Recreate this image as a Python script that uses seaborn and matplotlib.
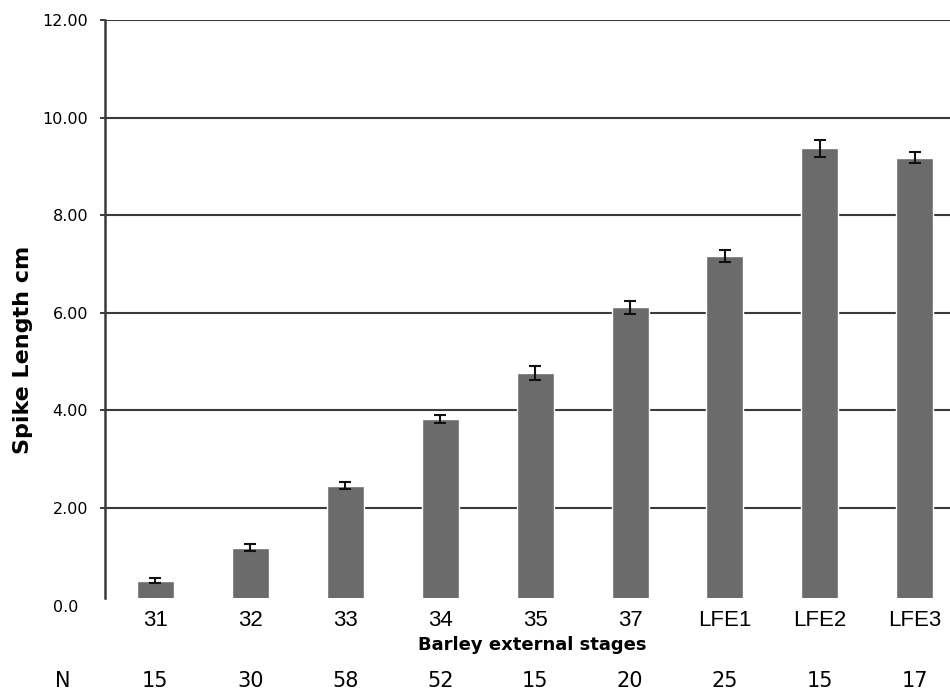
import pandas as pd
import matplotlib
matplotlib.use("Agg")
import matplotlib.pyplot as plt
import matplotlib.transforms as mtransforms
import seaborn as sns
import numpy as np

# Spike length by barley external stage
stages = ["31", "32", "33", "34", "35", "37", "LFE1", "LFE2", "LFE3"]
spike_length = [0.51, 1.19, 2.46, 3.82, 4.77, 6.11, 7.16, 9.37, 9.18]
std_err = [0.05, 0.07, 0.08, 0.085, 0.15, 0.14, 0.12, 0.18, 0.11]
n_counts = [15, 30, 58, 52, 15, 20, 25, 15, 17]
y_ticks = [0, 2, 4, 6, 8, 10, 12]
y_tick_labels = ["0.0", "2.00", "4.00", "6.00", "8.00", "10.00", "12.00"]
bar_base = 0.166  # bars and axis line stop a little above zero

sns.set_theme(style="white")
plt.rcParams['font.family'] = ['DejaVu Sans']
plt.rcParams.update({'text.color': 'black', 'xtick.color': 'black',
                     'ytick.color': 'black', 'axes.labelcolor': 'black'})

df = pd.DataFrame({"stage": stages, "length": spike_length, "se": std_err})

fig = plt.figure(figsize=(9.5, 6.9), dpi=100)
ax = fig.add_axes([0.1105, 0.1223, 0.8895, 0.8487])

ax.set_axisbelow(True)
ax.yaxis.grid(True, color="#3a3a3a", linewidth=1.5)
ax.xaxis.grid(False)

sns.barplot(data=df, x="stage", y="length", color="#6b6b6b", width=0.39,
            saturation=1, errorbar=None, ax=ax, zorder=2)
ax.errorbar(np.arange(len(stages)), spike_length, yerr=std_err, fmt="none",
            ecolor="#111111", elinewidth=1.5, capsize=4, capthick=1.5, zorder=3)
# white strip hides the bar bottoms below the axis base
ax.axhspan(0, bar_base, color="white", zorder=2.5, lw=0)

ax.set_xlim(-0.53, 8.37)
ax.set_ylim(0, 12)
ax.set_yticks(y_ticks)
ax.set_yticklabels(y_tick_labels, fontsize=11.5)
ax.tick_params(axis="y", length=3.6, width=1.4, color="#3a3a3a", pad=8.5, left=True)
ax.tick_params(axis="x", length=0, pad=3)
ax.yaxis.get_major_ticks()[0].tick1line.set_visible(False)
ax.yaxis.get_major_ticks()[0].gridline.set_visible(False)
for lbl in ax.get_xticklabels():
    lbl.set_fontfamily("Liberation Sans")
    lbl.set_fontsize(16)

# "0.0" label sits a little left of the others
zero_lbl = ax.get_yticklabels()[0]
zero_lbl.set_transform(zero_lbl.get_transform() +
                       mtransforms.ScaledTranslation(-10 / 100, 0, fig.dpi_scale_trans))

for side in ["top", "right", "bottom"]:
    ax.spines[side].set_visible(False)
ax.spines["left"].set_color("#3a3a3a")
ax.spines["left"].set_linewidth(1.8)
ax.spines["left"].set_bounds(bar_base, 12)

ax.set_ylabel("")
fig.text(23 / 950, 1 - 350 / 690, "Spike Length cm", fontsize=16,
         fontweight="bold", rotation=90, ha="center", va="center")
ax.set_xlabel("Barley external stages", fontsize=13, fontweight="bold")
ax.xaxis.set_label_coords(0.506, -0.067)
ax.xaxis.label.set_va("center")

# N row beneath the axis
trans = mtransforms.blended_transform_factory(ax.transData, fig.transFigure)
fig.text(63 / 950, 1 - 681 / 690, "N", fontsize=15, ha="center", va="center")
for i, n in enumerate(n_counts):
    ax.text(i, 1 - 681 / 690, str(n), transform=trans, fontsize=15,
            ha="center", va="center", clip_on=False)

fig.savefig("out.png", dpi=100)
